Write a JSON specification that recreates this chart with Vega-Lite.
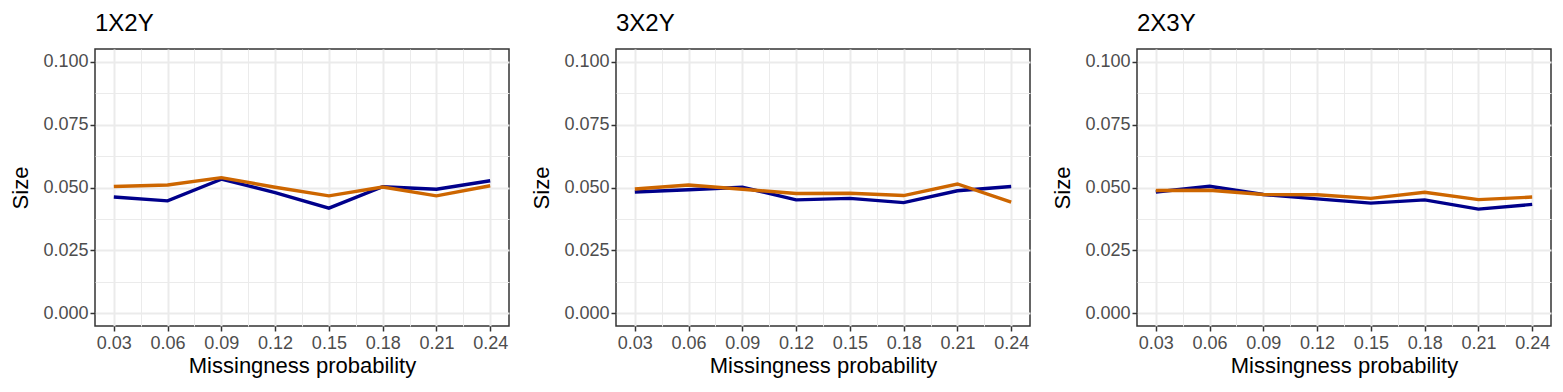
{
  "$schema": "https://vega.github.io/schema/vega-lite/v6.json",
  "padding": {"left": 9, "top": 11, "right": 5, "bottom": 5},
  "spacing": 20,
  "datasets": {
    "d": [
      {"panel": "1X2Y", "p": 0.03, "series": "A", "size": 0.0462},
      {"panel": "1X2Y", "p": 0.06, "series": "A", "size": 0.0447},
      {"panel": "1X2Y", "p": 0.09, "series": "A", "size": 0.0533},
      {"panel": "1X2Y", "p": 0.12, "series": "A", "size": 0.0480},
      {"panel": "1X2Y", "p": 0.15, "series": "A", "size": 0.0418},
      {"panel": "1X2Y", "p": 0.18, "series": "A", "size": 0.0503},
      {"panel": "1X2Y", "p": 0.21, "series": "A", "size": 0.0493},
      {"panel": "1X2Y", "p": 0.24, "series": "A", "size": 0.0527},
      {"panel": "1X2Y", "p": 0.03, "series": "B", "size": 0.0504},
      {"panel": "1X2Y", "p": 0.06, "series": "B", "size": 0.0510},
      {"panel": "1X2Y", "p": 0.09, "series": "B", "size": 0.0539},
      {"panel": "1X2Y", "p": 0.12, "series": "B", "size": 0.0501},
      {"panel": "1X2Y", "p": 0.15, "series": "B", "size": 0.0467},
      {"panel": "1X2Y", "p": 0.18, "series": "B", "size": 0.0502},
      {"panel": "1X2Y", "p": 0.21, "series": "B", "size": 0.0467},
      {"panel": "1X2Y", "p": 0.24, "series": "B", "size": 0.0507},
      {"panel": "3X2Y", "p": 0.03, "series": "A", "size": 0.0482},
      {"panel": "3X2Y", "p": 0.06, "series": "A", "size": 0.0491},
      {"panel": "3X2Y", "p": 0.09, "series": "A", "size": 0.0501},
      {"panel": "3X2Y", "p": 0.12, "series": "A", "size": 0.0451},
      {"panel": "3X2Y", "p": 0.15, "series": "A", "size": 0.0457},
      {"panel": "3X2Y", "p": 0.18, "series": "A", "size": 0.0440},
      {"panel": "3X2Y", "p": 0.21, "series": "A", "size": 0.0487},
      {"panel": "3X2Y", "p": 0.24, "series": "A", "size": 0.0504},
      {"panel": "3X2Y", "p": 0.03, "series": "B", "size": 0.0494},
      {"panel": "3X2Y", "p": 0.06, "series": "B", "size": 0.0510},
      {"panel": "3X2Y", "p": 0.09, "series": "B", "size": 0.0493},
      {"panel": "3X2Y", "p": 0.12, "series": "B", "size": 0.0476},
      {"panel": "3X2Y", "p": 0.15, "series": "B", "size": 0.0477},
      {"panel": "3X2Y", "p": 0.18, "series": "B", "size": 0.0468},
      {"panel": "3X2Y", "p": 0.21, "series": "B", "size": 0.0514},
      {"panel": "3X2Y", "p": 0.24, "series": "B", "size": 0.0442},
      {"panel": "2X3Y", "p": 0.03, "series": "A", "size": 0.0482},
      {"panel": "2X3Y", "p": 0.06, "series": "A", "size": 0.0505},
      {"panel": "2X3Y", "p": 0.09, "series": "A", "size": 0.0472},
      {"panel": "2X3Y", "p": 0.12, "series": "A", "size": 0.0455},
      {"panel": "2X3Y", "p": 0.15, "series": "A", "size": 0.0438},
      {"panel": "2X3Y", "p": 0.18, "series": "A", "size": 0.0451},
      {"panel": "2X3Y", "p": 0.21, "series": "A", "size": 0.0414},
      {"panel": "2X3Y", "p": 0.24, "series": "A", "size": 0.0433},
      {"panel": "2X3Y", "p": 0.03, "series": "B", "size": 0.0488},
      {"panel": "2X3Y", "p": 0.06, "series": "B", "size": 0.0489},
      {"panel": "2X3Y", "p": 0.09, "series": "B", "size": 0.0472},
      {"panel": "2X3Y", "p": 0.12, "series": "B", "size": 0.0471},
      {"panel": "2X3Y", "p": 0.15, "series": "B", "size": 0.0457},
      {"panel": "2X3Y", "p": 0.18, "series": "B", "size": 0.0481},
      {"panel": "2X3Y", "p": 0.21, "series": "B", "size": 0.0452},
      {"panel": "2X3Y", "p": 0.24, "series": "B", "size": 0.0462}
    ]
  },
  "hconcat": [
    {
      "width": 414, "height": 277,
      "title": {"text": "1X2Y"},
      "data": {"name": "d"},
      "transform": [{"filter": "datum.panel == '1X2Y'"}],
      "mark": {"type": "line", "strokeWidth": 3.4},
      "encoding": {
        "x": {"field": "p", "type": "quantitative", "title": "Missingness probability", "scale": {"domain": [0.0195, 0.2505], "nice": false, "zero": false},
          "axis": {"values": [0.03, 0.045, 0.06, 0.075, 0.09, 0.105, 0.12, 0.135, 0.15, 0.165, 0.18, 0.195, 0.21, 0.225, 0.24],
            "labelExpr": "round(datum.value*1000) % 30 == 0 ? format(datum.value, '.2f') : ''",
            "tickOpacity": {"condition": {"test": "round(datum.value*1000) % 30 == 0", "value": 1}, "value": 0},
            "gridWidth": {"condition": {"test": "round(datum.value*1000) % 30 == 0", "value": 2}, "value": 1},
            "labelOverlap": false, "labelFlush": false, "labelBound": false}},
        "y": {"field": "size", "type": "quantitative", "title": "Size", "scale": {"domain": [-0.005, 0.105], "nice": false, "zero": false},
          "axis": {"values": [0, 0.0125, 0.025, 0.0375, 0.05, 0.0625, 0.075, 0.0875, 0.1],
            "labelExpr": "round(datum.value*10000) % 250 == 0 ? format(datum.value, '.3f') : ''",
            "tickOpacity": {"condition": {"test": "round(datum.value*10000) % 250 == 0", "value": 1}, "value": 0},
            "gridWidth": {"condition": {"test": "round(datum.value*10000) % 250 == 0", "value": 2}, "value": 1},
            "labelOverlap": false, "labelFlush": false, "labelBound": false}},
        "color": {"field": "series", "type": "nominal", "legend": null, "scale": {"domain": ["A", "B"], "range": ["#00008B", "#CD6600"]}}
      }
    },
    {
      "width": 414, "height": 277,
      "title": {"text": "3X2Y"},
      "data": {"name": "d"},
      "transform": [{"filter": "datum.panel == '3X2Y'"}],
      "mark": {"type": "line", "strokeWidth": 3.4},
      "encoding": {
        "x": {"field": "p", "type": "quantitative", "title": "Missingness probability", "scale": {"domain": [0.0195, 0.2505], "nice": false, "zero": false},
          "axis": {"values": [0.03, 0.045, 0.06, 0.075, 0.09, 0.105, 0.12, 0.135, 0.15, 0.165, 0.18, 0.195, 0.21, 0.225, 0.24],
            "labelExpr": "round(datum.value*1000) % 30 == 0 ? format(datum.value, '.2f') : ''",
            "tickOpacity": {"condition": {"test": "round(datum.value*1000) % 30 == 0", "value": 1}, "value": 0},
            "gridWidth": {"condition": {"test": "round(datum.value*1000) % 30 == 0", "value": 2}, "value": 1},
            "labelOverlap": false, "labelFlush": false, "labelBound": false}},
        "y": {"field": "size", "type": "quantitative", "title": "Size", "scale": {"domain": [-0.005, 0.105], "nice": false, "zero": false},
          "axis": {"values": [0, 0.0125, 0.025, 0.0375, 0.05, 0.0625, 0.075, 0.0875, 0.1],
            "labelExpr": "round(datum.value*10000) % 250 == 0 ? format(datum.value, '.3f') : ''",
            "tickOpacity": {"condition": {"test": "round(datum.value*10000) % 250 == 0", "value": 1}, "value": 0},
            "gridWidth": {"condition": {"test": "round(datum.value*10000) % 250 == 0", "value": 2}, "value": 1},
            "labelOverlap": false, "labelFlush": false, "labelBound": false}},
        "color": {"field": "series", "type": "nominal", "legend": null, "scale": {"domain": ["A", "B"], "range": ["#00008B", "#CD6600"]}}
      }
    },
    {
      "width": 414, "height": 277,
      "title": {"text": "2X3Y"},
      "data": {"name": "d"},
      "transform": [{"filter": "datum.panel == '2X3Y'"}],
      "mark": {"type": "line", "strokeWidth": 3.4},
      "encoding": {
        "x": {"field": "p", "type": "quantitative", "title": "Missingness probability", "scale": {"domain": [0.0195, 0.2505], "nice": false, "zero": false},
          "axis": {"values": [0.03, 0.045, 0.06, 0.075, 0.09, 0.105, 0.12, 0.135, 0.15, 0.165, 0.18, 0.195, 0.21, 0.225, 0.24],
            "labelExpr": "round(datum.value*1000) % 30 == 0 ? format(datum.value, '.2f') : ''",
            "tickOpacity": {"condition": {"test": "round(datum.value*1000) % 30 == 0", "value": 1}, "value": 0},
            "gridWidth": {"condition": {"test": "round(datum.value*1000) % 30 == 0", "value": 2}, "value": 1},
            "labelOverlap": false, "labelFlush": false, "labelBound": false}},
        "y": {"field": "size", "type": "quantitative", "title": "Size", "scale": {"domain": [-0.005, 0.105], "nice": false, "zero": false},
          "axis": {"values": [0, 0.0125, 0.025, 0.0375, 0.05, 0.0625, 0.075, 0.0875, 0.1],
            "labelExpr": "round(datum.value*10000) % 250 == 0 ? format(datum.value, '.3f') : ''",
            "tickOpacity": {"condition": {"test": "round(datum.value*10000) % 250 == 0", "value": 1}, "value": 0},
            "gridWidth": {"condition": {"test": "round(datum.value*10000) % 250 == 0", "value": 2}, "value": 1},
            "labelOverlap": false, "labelFlush": false, "labelBound": false}},
        "color": {"field": "series", "type": "nominal", "legend": null, "scale": {"domain": ["A", "B"], "range": ["#00008B", "#CD6600"]}}
      }
    }
  ],
  "resolve": {"scale": {"color": "shared"}},
  "config": {
    "font": "Liberation Sans",
    "view": {"stroke": "#333333", "strokeWidth": 1.5},
    "title": {"anchor": "start", "frame": "group", "fontSize": 24, "fontWeight": "normal", "color": "#000000", "offset": 13},
    "axis": {
      "domain": false,
      "labelFont": "Liberation Sans",
      "labelFontSize": 18,
      "labelColor": "#4D4D4D",
      "titleFont": "Liberation Sans",
      "titleFontSize": 22,
      "titleFontWeight": "normal",
      "titleColor": "#000000",
      "tickColor": "#333333",
      "tickWidth": 1.5,
      "tickSize": 5,
      "gridColor": "#EBEBEB"
    },
    "axisX": {"labelPadding": 3, "titlePadding": 3},
    "axisY": {"labelPadding": 2, "titlePadding": 10}
  }
}
